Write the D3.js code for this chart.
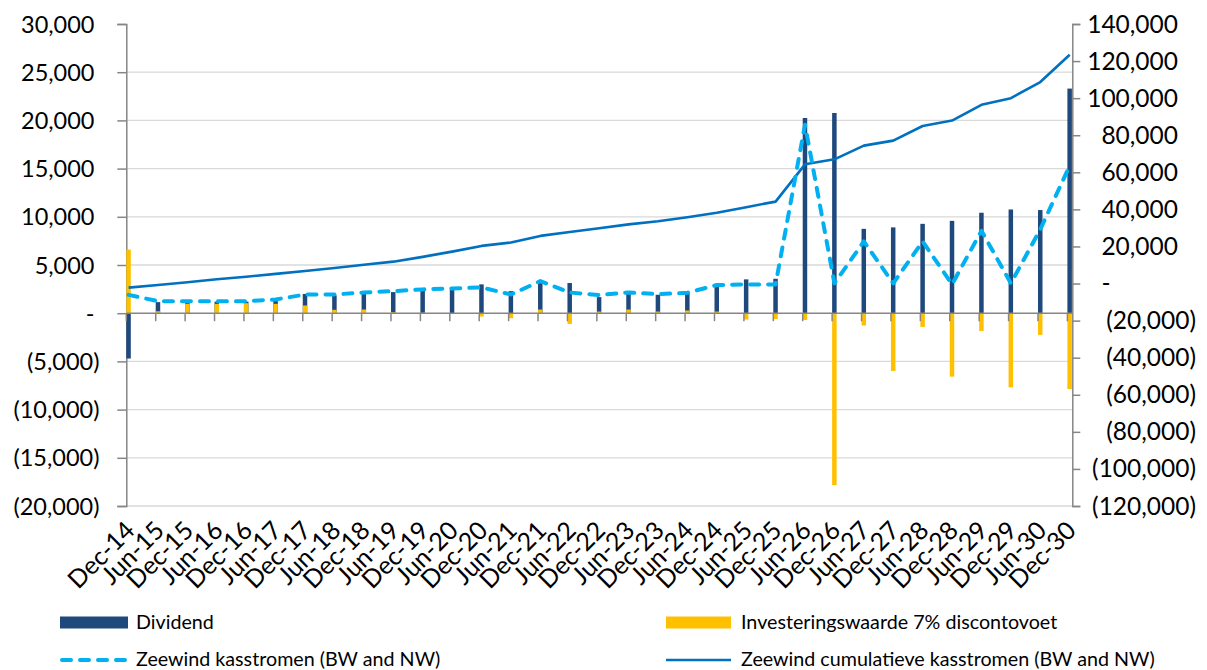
<!DOCTYPE html>
<html>
<head>
<meta charset="utf-8">
<script src="https://cdn.jsdelivr.net/npm/d3@7"></script>
<style>
  body { margin: 0; background: #fff; }
  text { font-family: Lato, "Open Sans", sans-serif; fill: #000; }
</style>
</head>
<body>
<div id="main"></div>
<script>
// half-year periods
const periods = ["Dec-14","Jun-15","Dec-15","Jun-16","Dec-16","Jun-17","Dec-17","Jun-18","Dec-18",
  "Jun-19","Dec-19","Jun-20","Dec-20","Jun-21","Dec-21","Jun-22","Dec-22","Jun-23","Dec-23",
  "Jun-24","Dec-24","Jun-25","Dec-25","Jun-26","Dec-26","Jun-27","Dec-27","Jun-28","Dec-28",
  "Jun-29","Dec-29","Jun-30","Dec-30"];

const dividend = [-4700, 1150, 1200, 1200, 1200, 1500, 2000, 1850, 2080, 2190, 2360, 2430, 2990,
  2290, 3260, 3130, 1670, 2010, 1910, 2120, 2810, 3510, 3570, 20250, 20770, 8750, 8900, 9270,
  9580, 10420, 10760, 10700, 23300];

const investering = [6600, 200, 970, 970, 1040, 970, 800, 350, 380, 100, 50, -60, -350, -520, 380,
  -1110, 170, 380, 170, 280, 170, -660, -600, -700, -17830, -1280, -5990, -1420, -6580, -1840,
  -7690, -2250, -7860];

const kasstromen = [1900, 1250, 1250, 1250, 1250, 1420, 1940, 1940, 2150, 2290, 2470, 2570, 2670,
  1940, 3330, 2150, 1880, 2150, 1980, 2120, 2920, 2990, 2990, 19550, 3100, 7440, 3100, 7440,
  3000, 8550, 3100, 8700, 15300];

// right axis
const cumulatief = [-2200, -800, 700, 2300, 3700, 5200, 6800, 8400, 10100, 11800, 14400, 17200,
  20300, 22100, 25700, 27800, 29800, 31900, 33600, 35800, 38200, 41200, 44200, 64300, 67000,
  74400, 77100, 85000, 87900, 96400, 100000, 108700, 123400];

const leftTicks = [30000, 25000, 20000, 15000, 10000, 5000, 0, -5000, -10000, -15000, -20000];
const rightTicks = [140000, 120000, 100000, 80000, 60000, 40000, 20000, 0, -20000, -40000,
  -60000, -80000, -100000, -120000];

const ctx = {
    w: 1207,
    h: 670,
    left: 126.3,
    right: 1072.3,
    top: 24,
    bottom: 506,
    MONTHS: 193,
    BAR_W: 4.5,
    DARK: "#1F497D",
    GOLD: "#FFC000",
    CYAN: "#00B0F0",
    BLUE: "#0070C0",
    AXIS: "#868686",
    GRID: "#D9D9D9",
};

function fmt(v){
    if (v === 0) return "-";
    const s = d3.format(",")(Math.abs(v));
    return v < 0 ? "(" + s + ")" : s;
}

function createViz(){
    const svg = d3.select("#main").append("svg")
        .attr("width", ctx.w).attr("height", ctx.h);

    const x = d3.scaleLinear().domain([0, ctx.MONTHS]).range([ctx.left, ctx.right]);
    const yL = d3.scaleLinear().domain([-20000, 30000]).range([ctx.bottom, ctx.top]);
    const yR = d3.scaleLinear().domain([-120000, 140000]).range([ctx.bottom, ctx.top]);
    const m = (i) => i * 6; // month offset of period i

    // gridlines
    svg.append("g").selectAll("line")
       .data(leftTicks.filter(d => d !== 30000 && d !== 0))
       .enter().append("line")
       .attr("x1", ctx.left).attr("x2", ctx.right)
       .attr("y1", d => yL(d)).attr("y2", d => yL(d))
       .attr("stroke", ctx.GRID).attr("stroke-width", 1.3);

    // left axis
    const axL = svg.append("g").attr("transform", `translate(${ctx.left},0)`)
       .call(d3.axisLeft(yL).tickValues(leftTicks).tickSize(9).tickFormat(""));
    axL.select(".domain").attr("stroke", ctx.AXIS).attr("stroke-width", 1.5);
    axL.selectAll(".tick line").attr("stroke", ctx.AXIS).attr("stroke-width", 1.5);

    svg.append("g").selectAll("text")
       .data(leftTicks).enter().append("text")
       .attr("x", d => d < 0 ? 99.5 : (d === 0 ? 90 : 94.5))
       .attr("y", d => yL(d) + 8.5)
       .attr("text-anchor", d => d === 0 ? "middle" : "end")
       .style("font-size", "23.5px")
       .text(fmt);

    // right axis
    const axR = svg.append("g").attr("transform", `translate(${ctx.right},0)`)
       .call(d3.axisRight(yR).tickValues(rightTicks).tickSize(8).tickFormat(""));
    axR.select(".domain").attr("stroke", ctx.AXIS).attr("stroke-width", 1.5);
    axR.selectAll(".tick line").attr("stroke", ctx.AXIS).attr("stroke-width", 1.5);

    svg.append("g").selectAll("text")
       .data(rightTicks).enter().append("text")
       .attr("x", d => d < 0 ? 1196 : (d === 0 ? 1106 : 1178))
       .attr("y", d => yR(d) + 8.5)
       .attr("text-anchor", d => d === 0 ? "middle" : "end")
       .style("font-size", "24.5px")
       .text(fmt);

    // bars: dividend behind, investering in front
    svg.append("g").selectAll("rect")
       .data(dividend).enter().append("rect")
       .attr("x", (d, i) => x(m(i)))
       .attr("width", ctx.BAR_W)
       .attr("y", d => yL(Math.max(0, d)))
       .attr("height", d => Math.abs(yL(d) - yL(0)))
       .attr("fill", ctx.DARK);

    svg.append("g").selectAll("rect")
       .data(investering).enter().append("rect")
       .attr("x", (d, i) => x(m(i)))
       .attr("width", ctx.BAR_W)
       .attr("y", d => yL(Math.max(0, d)))
       .attr("height", d => Math.abs(yL(d) - yL(0)))
       .attr("fill", ctx.GOLD);

    // category axis at zero
    svg.append("line")
       .attr("x1", ctx.left).attr("x2", ctx.right)
       .attr("y1", yL(0)).attr("y2", yL(0))
       .attr("stroke", ctx.AXIS).attr("stroke-width", 1.5);
    svg.append("g").selectAll("line")
       .data(periods).enter().append("line")
       .attr("x1", (d, i) => x(m(i))).attr("x2", (d, i) => x(m(i)))
       .attr("y1", yL(0)).attr("y2", yL(0) + 8)
       .attr("stroke", ctx.AXIS).attr("stroke-width", 1.5);

    // lines
    const px = (i) => x(m(i) + 0.47);
    const lineL = d3.line().x((d, i) => px(i)).y(d => yL(d));
    const lineR = d3.line().x((d, i) => px(i)).y(d => yR(d));

    svg.append("path").datum(cumulatief)
       .attr("d", lineR).attr("fill", "none")
       .attr("stroke", ctx.BLUE).attr("stroke-width", 2.6)
       .attr("stroke-linejoin", "round");

    svg.append("path").datum(kasstromen)
       .attr("d", lineL).attr("fill", "none")
       .attr("stroke", ctx.CYAN).attr("stroke-width", 4)
       .attr("stroke-dasharray", "9,9").attr("stroke-linecap", "round")
       .attr("stroke-linejoin", "round");

    // period labels
    svg.append("g").selectAll("text")
       .data(periods).enter().append("text")
       .attr("transform", (d, i) => `translate(${x(m(i)) + 10},532) rotate(-45)`)
       .attr("text-anchor", "end")
       .style("font-size", "25px")
       .text(d => d);

    // legend
    const leg = svg.append("g").style("font-size", "19.7px");
    leg.append("rect").attr("x", 60).attr("y", 616.5).attr("width", 68).attr("height", 12)
       .attr("fill", ctx.DARK);
    leg.append("text").attr("x", 136).attr("y", 629).text("Dividend");
    leg.append("rect").attr("x", 666).attr("y", 616.5).attr("width", 65).attr("height", 12)
       .attr("fill", ctx.GOLD);
    leg.append("text").attr("x", 741).attr("y", 629).text("Investeringswaarde 7% discontovoet");
    leg.append("line").attr("x1", 62).attr("x2", 126).attr("y1", 660).attr("y2", 660)
       .attr("stroke", ctx.CYAN).attr("stroke-width", 4)
       .attr("stroke-dasharray", "9,9").attr("stroke-linecap", "round");
    leg.append("text").attr("x", 136).attr("y", 666).text("Zeewind kasstromen (BW and NW)");
    leg.append("line").attr("x1", 666).attr("x2", 731).attr("y1", 660).attr("y2", 660)
       .attr("stroke", ctx.BLUE).attr("stroke-width", 2.6);
    leg.append("text").attr("x", 741).attr("y", 666).text("Zeewind cumulatieve kasstromen (BW and NW)");
}

createViz();
</script>
</body>
</html>
